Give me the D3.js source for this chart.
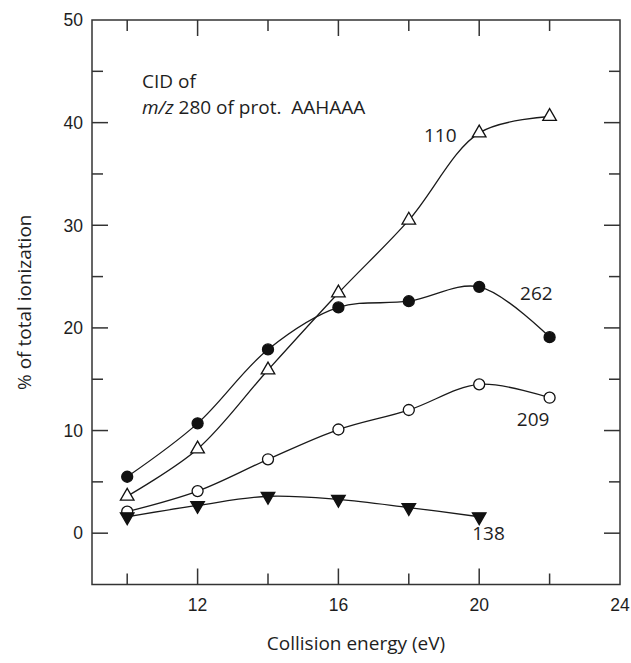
<!DOCTYPE html>
<html>
<head>
<meta charset="utf-8">
<script src="https://cdn.jsdelivr.net/npm/d3@7"></script>
<style>
  body { margin: 0; background: #fff; }
  svg { display: block; }
  .tick-label { font-family: "Liberation Sans", Arial, sans-serif; font-size: 17.5px; fill: #1e1e1e; }
  .title, .note { font-family: "Open Sans", sans-serif; font-size: 19px; fill: #1e1e1e; }
</style>
</head>
<body>
<svg width="631" height="663"></svg>
<script>
// collision energies (eV)
var energies = [10, 12, 14, 16, 18, 20, 22];

// % of total ionization for each fragment ion
var ion110 = [3.6, 8.2, 15.9, 23.4, 30.5, 39.0, 40.6];
var ion262 = [5.5, 10.7, 17.9, 22.0, 22.6, 24.0, 19.1];
var ion209 = [2.1, 4.1, 7.2, 10.1, 12.0, 14.5, 13.2];
var ion138 = [1.6, 2.7, 3.6, 3.3, 2.5, 1.6];

var xTicks = [12, 16, 20, 24];
var xMinor = [10, 14, 18, 22];
var yTicks = [0, 10, 20, 30, 40, 50];
var yMinor = [5, 15, 25, 35, 45];

// label text with anchor in data units
var labels = [
  { text: "110", x: 18.43, y: 38.1 },
  { text: "262", x: 21.16, y: 22.7 },
  { text: "209", x: 21.07, y: 10.4 },
  { text: "138", x: 19.8, y: -0.63 }
];

var series = [
  { name: "110", values: ion110, shape: "triUp",   filled: false },
  { name: "262", values: ion262, shape: "circle",  filled: true },
  { name: "209", values: ion209, shape: "circle",  filled: false },
  { name: "138", values: ion138, shape: "triDown", filled: true }
];

var svg = d3.select("svg");
var mLeft = 92, mRight = 620, mTop = 20, mBottom = 584.5;

var x = d3.scaleLinear().domain([9, 24]).range([mLeft, mRight]);
var y = d3.scaleLinear().domain([-5, 50]).range([mBottom, mTop]);

var axisColor = "#333";
var major = 16, minor = 11;

// frame
svg.append("rect")
   .attr("x", mLeft).attr("y", mTop)
   .attr("width", mRight - mLeft).attr("height", mBottom - mTop)
   .attr("fill", "none")
   .attr("stroke", axisColor)
   .attr("stroke-width", 1.5);

// inward ticks on all four sides
var tickG = svg.append("g").attr("stroke", axisColor).attr("stroke-width", 1.5);

function xTickLines(vals, len) {
  vals.forEach(function(v) {
    tickG.append("line").attr("x1", x(v)).attr("x2", x(v)).attr("y1", mBottom).attr("y2", mBottom - len);
    tickG.append("line").attr("x1", x(v)).attr("x2", x(v)).attr("y1", mTop).attr("y2", mTop + len);
  });
}
function yTickLines(vals, len) {
  vals.forEach(function(v) {
    tickG.append("line").attr("y1", y(v)).attr("y2", y(v)).attr("x1", mLeft).attr("x2", mLeft + len);
    tickG.append("line").attr("y1", y(v)).attr("y2", y(v)).attr("x1", mRight).attr("x2", mRight - len);
  });
}
xTickLines(xTicks.filter(function(v) { return v < 24; }), major);
xTickLines(xMinor, minor);
yTickLines(yTicks.filter(function(v) { return v < 50; }), major);
yTickLines(yMinor, minor);

// tick labels
svg.append("g").selectAll("text")
   .data(xTicks).enter().append("text")
   .attr("class", "tick-label")
   .attr("x", function(d) { return x(d); })
   .attr("y", mBottom + 26)
   .attr("text-anchor", "middle")
   .text(function(d) { return d; });

svg.append("g").selectAll("text")
   .data(yTicks).enter().append("text")
   .attr("class", "tick-label")
   .attr("x", mLeft - 9)
   .attr("y", function(d) { return y(d); })
   .attr("dy", "0.36em")
   .attr("text-anchor", "end")
   .text(function(d) { return d; });

// axis titles
svg.append("text")
   .attr("class", "title")
   .attr("x", (mLeft + mRight) / 2)
   .attr("y", 650)
   .attr("text-anchor", "middle")
   .text("Collision energy (eV)");

svg.append("text")
   .attr("class", "title")
   .attr("transform", "translate(31," + ((mTop + mBottom) / 2) + ") rotate(-90)")
   .attr("text-anchor", "middle")
   .text("% of total ionization");

// curves
var line = d3.line()
   .x(function(d) { return x(d[0]); })
   .y(function(d) { return y(d[1]); })
   .curve(d3.curveCatmullRom.alpha(0.5));

function pairs(s) {
  return s.values.map(function(v, i) { return [energies[i], v]; });
}

svg.append("g").selectAll("path")
   .data(series).enter().append("path")
   .attr("d", function(s) { return line(pairs(s)); })
   .attr("fill", "none")
   .attr("stroke", "#1a1a1a")
   .attr("stroke-width", 1.3);

// markers
var circleSym = d3.symbol().type(d3.symbolCircle).size(95);
var triSym = d3.symbol().type(d3.symbolTriangle).size(80);

series.forEach(function(s) {
  svg.append("g").selectAll("path")
     .data(pairs(s)).enter().append("path")
     .attr("d", s.shape === "circle" ? circleSym() : triSym())
     .attr("transform", function(d) {
        var t = "translate(" + x(d[0]) + "," + y(d[1]) + ")";
        return s.shape === "triDown" ? t + " rotate(180)" : t;
     })
     .attr("fill", s.filled ? "#111" : "#fff")
     .attr("stroke", "#111")
     .attr("stroke-width", 1.3);
});

// series labels
svg.append("g").selectAll("text")
   .data(labels).enter().append("text")
   .attr("class", "note")
   .attr("x", function(d) { return x(d.x); })
   .attr("y", function(d) { return y(d.y); })
   .text(function(d) { return d.text; });

// annotation
svg.append("text")
   .attr("class", "note")
   .attr("x", x(10.42))
   .attr("y", y(43.4))
   .text("CID of");
var line2 = svg.append("text")
   .attr("class", "note")
   .attr("x", x(10.42))
   .attr("y", y(40.85))
   .style("white-space", "pre");
line2.append("tspan").style("font-style", "italic").text("m/z");
line2.append("tspan").text(" 280 of prot.  AAHAAA");
</script>
</body>
</html>
